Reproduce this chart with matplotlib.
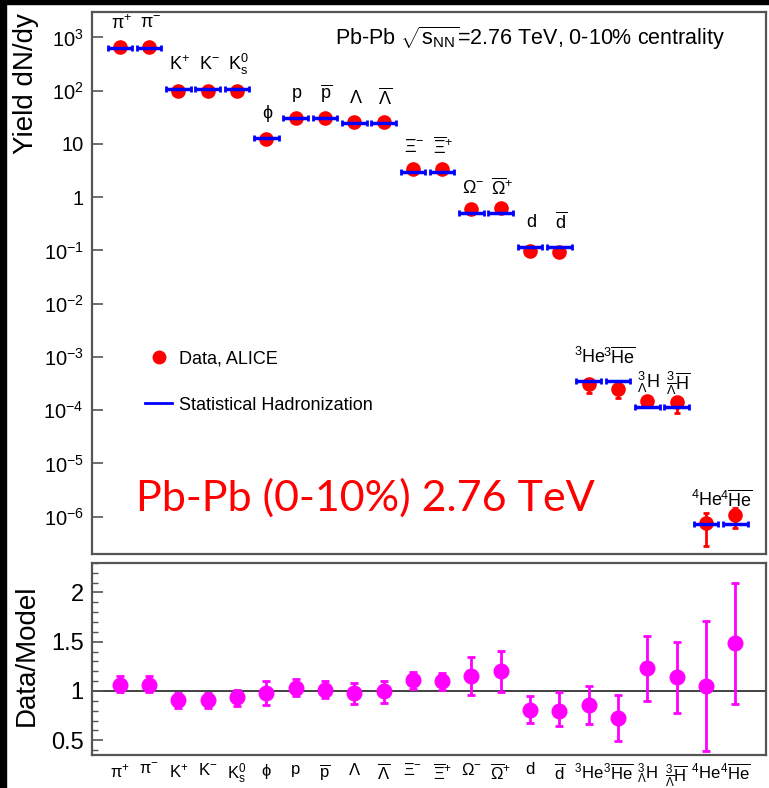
import numpy as np
import matplotlib
matplotlib.use("Agg")
import matplotlib.pyplot as plt
from matplotlib.lines import Line2D
from matplotlib.patches import Rectangle

plt.rcParams["font.family"] = ["Liberation Sans", "DejaVu Sans"]
plt.rcParams["mathtext.fontset"] = "custom"
plt.rcParams["mathtext.rm"] = "Liberation Sans"
plt.rcParams["mathtext.it"] = "Liberation Sans:italic"
plt.rcParams["mathtext.default"] = "regular"

# particle species
labels = [r"$\pi^{+}$", r"$\pi^{-}$", r"$K^{+}$", r"$K^{-}$", r"$K^{0}_{s}$",
          r"$\phi$", "p", r"$\overline{p}$", r"$\Lambda$", r"$\overline{\Lambda}$",
          r"$\Xi^{-}$", r"$\overline{\Xi}^{+}$", r"$\Omega^{-}$", r"$\overline{\Omega}^{+}$",
          "d", r"$\overline{d}$", r"${}^{3}$He", r"${}^{3}\overline{He}$",
          r"${}^{3}_{\Lambda}H$", r"${}^{3}_{\overline{\Lambda}}\overline{H}$",
          r"${}^{4}$He", r"${}^{4}\overline{He}$"]

# yields dN/dy, ALICE data
data = [658, 658, 98, 98, 100, 12.5, 31, 31, 25.3, 25.3,
        3.4, 3.4, 0.59, 0.62, 0.097, 0.094,
        3.1e-4, 2.5e-4, 1.5e-4, 1.4e-4, 7.5e-7, 1.09e-6]
data_lo = [0, 0, 0, 0, 0, 0, 0, 0, 0, 0,
           0, 0, 0, 0, 0, 0,
           0.95e-4, 0.8e-4, 0.3e-4, 0.5e-4, 4.65e-7, 0.47e-6]
data_hi = [0, 0, 0, 0, 0, 0, 0, 0, 0, 0,
           0, 0, 0, 0, 0, 0,
           0.5e-4, 0.6e-4, 0.3e-4, 0.3e-4, 4.5e-7, 0.38e-6]

# statistical hadronization model
model = [630, 630, 109, 109, 109, 13.0, 31, 31, 25, 25,
         3.03, 3.03, 0.515, 0.515, 0.118, 0.118,
         3.5e-4, 3.5e-4, 1.17e-4, 1.17e-4, 7.3e-7, 7.3e-7]

# data / model
ratio = [1.065, 1.065, 0.905, 0.905, 0.935, 0.98, 1.035, 1.01, 0.98, 1.0,
         1.11, 1.10, 1.15, 1.20, 0.81, 0.80, 0.855, 0.73, 1.23, 1.14, 1.05, 1.49]
ratio_lo = [0.075, 0.075, 0.075, 0.075, 0.085, 0.12, 0.085, 0.08, 0.11, 0.12,
            0.09, 0.09, 0.19, 0.21, 0.14, 0.16, 0.195, 0.24, 0.33, 0.36, 0.66, 0.62]
ratio_hi = [0.085, 0.085, 0.075, 0.075, 0.075, 0.12, 0.085, 0.09, 0.10, 0.10,
            0.08, 0.08, 0.20, 0.21, 0.14, 0.19, 0.195, 0.23, 0.33, 0.36, 0.66, 0.61]

x = np.arange(1, len(labels) + 1)
frame_col = "#555555"

fig = plt.figure(figsize=(7.69, 7.88), dpi=100)
ax = fig.add_axes([0.1196, 0.2970, 0.8765, 0.6878])
ax2 = fig.add_axes([0.1196, 0.0419, 0.8765, 0.2437])

# ---- top panel
ax.errorbar(x, data, yerr=[data_lo, data_hi], fmt="o", color="red", ms=9.5,
            elinewidth=2, capsize=2.5, capthick=2, zorder=2)
ax.errorbar(x, model, xerr=0.42, fmt="none", ecolor="blue", elinewidth=2.5,
            capsize=2.5, capthick=2, zorder=3)
for xi, yi, lab in zip(x, model, labels):
    ax.annotate(lab, (xi, yi), xytext=(1, 17.5), textcoords="offset points",
                ha="center", va="center", fontsize=13)

ax.set_yscale("log")
ax.set_ylim(2e-7, 3e3)
ax.set_xlim(0.05, 23.05)
ax.set_xticks([])
yt = [1e-6, 1e-5, 1e-4, 1e-3, 1e-2, 1e-1, 1, 10, 1e2, 1e3]
ax.set_yticks(yt)
ax.set_yticklabels([r"$10^{-6}$", r"$10^{-5}$", r"$10^{-4}$", r"$10^{-3}$",
                    r"$10^{-2}$", r"$10^{-1}$", "1", "10", r"$10^{2}$", r"$10^{3}$"])
ax.tick_params(axis="y", which="major", direction="in", length=8, width=1.2,
               labelsize=14.5, pad=6, color=frame_col)
ax.tick_params(axis="y", which="minor", direction="in", length=4, width=1,
               color=frame_col)
ax.set_ylabel("Yield dN/dy", fontsize=20, loc="top")
ax.yaxis.set_label_coords(-0.078, 0.998)

ax.text(0.36, 0.952, r"Pb-Pb $\sqrt{s_{NN}}$=2.76 TeV, 0-10% centrality",
        transform=ax.transAxes, fontsize=15.5, va="center", ha="left")
ax.text(0.405, 0.103, "Pb-Pb (0-10%) 2.76 TeV", transform=ax.transAxes,
        fontsize=31, color="red", family="Lato", ha="center", va="center")

handles = [Line2D([], [], marker="o", color="red", ls="none", ms=9),
           Line2D([], [], color="blue", lw=2)]
ax.legend(handles, ["Data, ALICE", "Statistical Hadronization"], frameon=False,
          loc="upper left", bbox_to_anchor=(0.055, 0.405), fontsize=13,
          handlelength=1.5, handletextpad=0.35, labelspacing=1.6)

# ---- ratio panel
ax2.axhline(1, color="#333333", lw=1.3, zorder=1)
ax2.errorbar(x, ratio, yerr=[ratio_lo, ratio_hi], fmt="o", color="magenta",
             ms=10.5, elinewidth=2, capsize=3, capthick=2, zorder=2)
ax2.set_xlim(0.05, 23.05)
ax2.set_ylim(0.35, 2.3)
ax2.set_xticks(x)
ax2.set_xticklabels(labels, fontsize=12)
ax2.tick_params(axis="x", length=0, pad=5)
ax2.set_yticks([0.5, 1, 1.5, 2])
ax2.set_yticklabels(["0.5", "1", "1.5", "2"])
ax2.set_yticks(np.arange(0.4, 2.31, 0.1), minor=True)
ax2.tick_params(axis="y", which="major", direction="in", length=8, width=1.2,
                labelsize=17, pad=6, color=frame_col)
ax2.tick_params(axis="y", which="minor", direction="in", length=4, width=1,
                color=frame_col)
ax2.set_ylabel("Data/Model", fontsize=20)
ax2.yaxis.set_label_coords(-0.078, 0.52)

for a in (ax, ax2):
    for s in a.spines.values():
        s.set_color(frame_col)
        s.set_linewidth(1.6)

# dark border of the original screenshot
fig.patches.append(Rectangle((0, 0), 6 / 769, 1, transform=fig.transFigure,
                             color="black", zorder=-1))
fig.patches.append(Rectangle((0, 1 - 3.5 / 788), 1, 3.5 / 788,
                             transform=fig.transFigure, color="black", zorder=-1))

fig.savefig("out.png", dpi=100)
